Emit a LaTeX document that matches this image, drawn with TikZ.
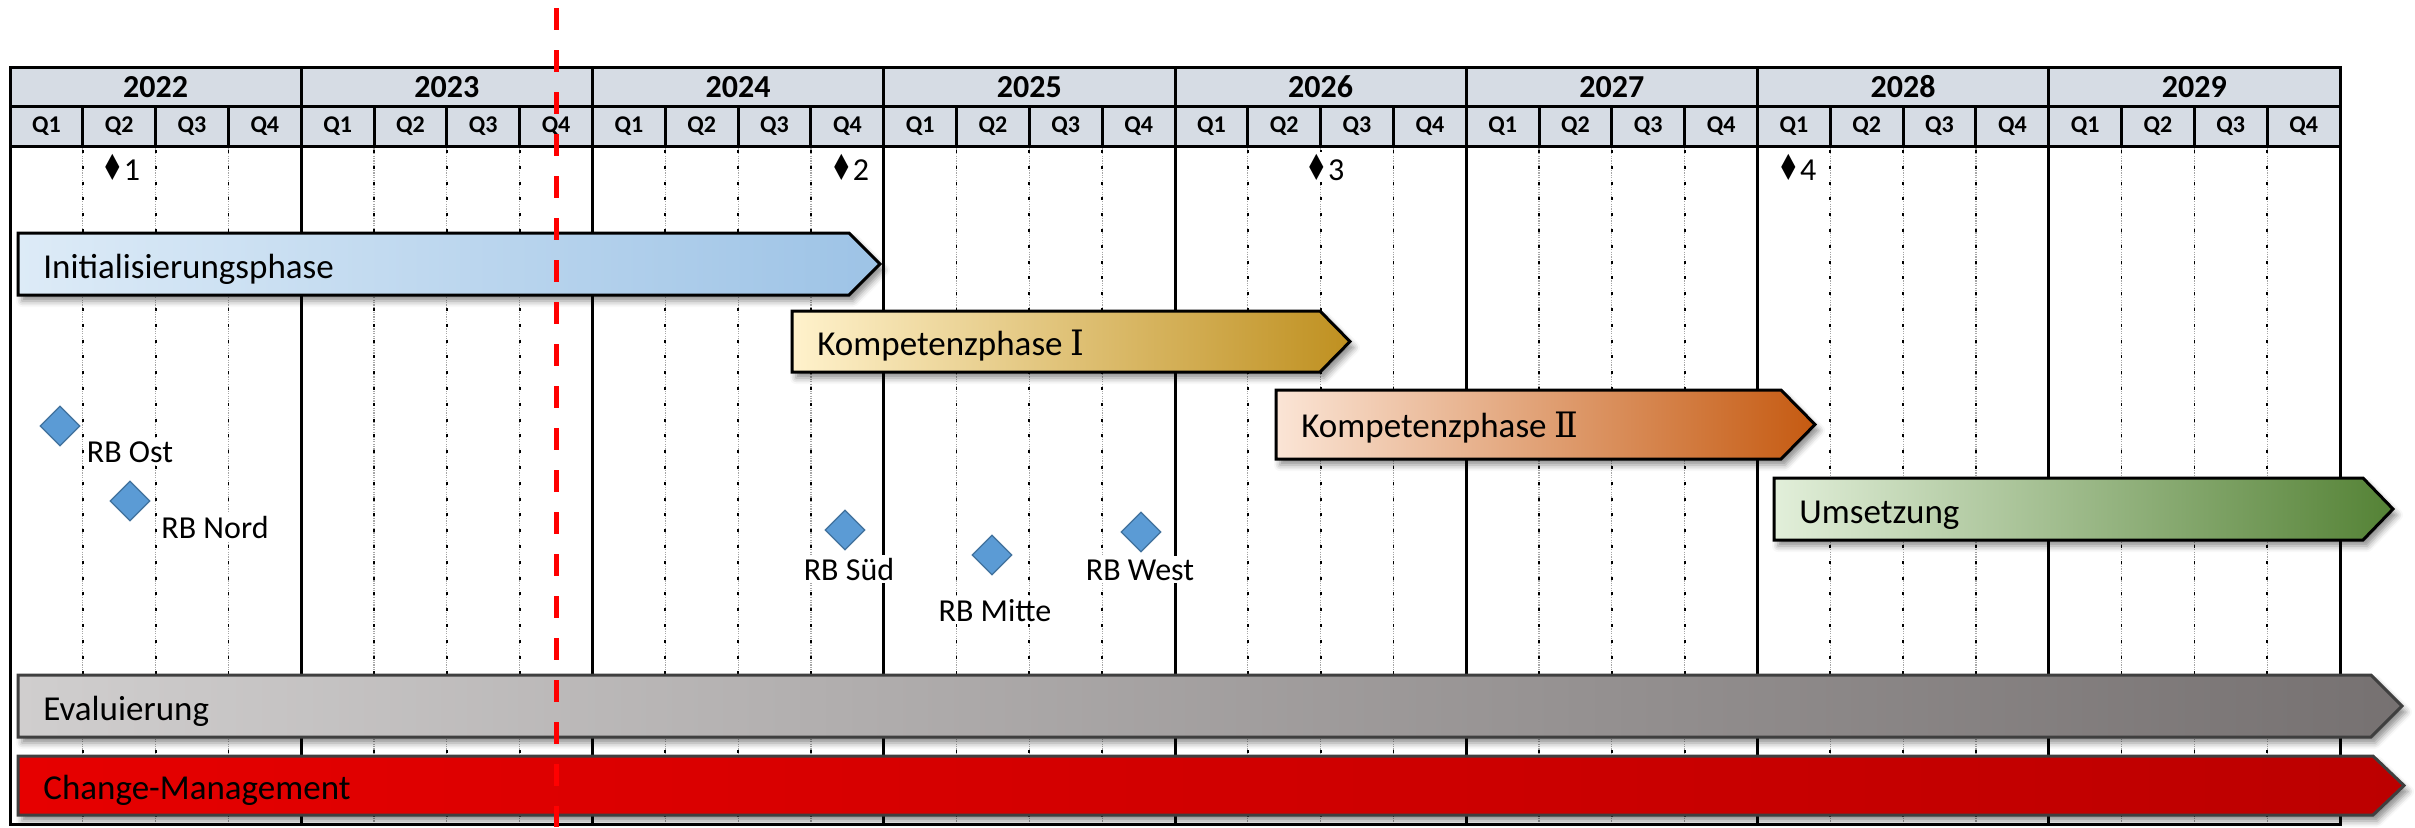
\documentclass[tikz,border=0pt]{standalone}
\usepackage{fontspec}
\usepackage{graphicx}
\setmainfont{Carlito}
\newfontfamily\symbolfont{DejaVu Sans}
\newfontfamily\romanfont{DejaVu Serif}
\usetikzlibrary{shapes.geometric,shadows.blur}

\definecolor{headfill}{HTML}{D6DCE4}
\definecolor{initL}{HTML}{DDEBF7}
\definecolor{initR}{HTML}{9DC3E6}
\definecolor{kpiL}{HTML}{FFF2CC}
\definecolor{kpiR}{HTML}{BF9020}
\definecolor{kpiiL}{HTML}{FBE5D6}
\definecolor{kpiiR}{HTML}{C55A11}
\definecolor{umsL}{HTML}{E2EFDA}
\definecolor{umsR}{HTML}{548235}
\definecolor{evalL}{HTML}{D0CECE}
\definecolor{evalR}{HTML}{767171}
\definecolor{cmL}{HTML}{E60000}
\definecolor{cmR}{HTML}{BC0000}
\definecolor{rbfill}{HTML}{5B9BD5}
\definecolor{rbdraw}{HTML}{41719C}
\definecolor{barline}{HTML}{3F3F3F}

\newcommand\msmark{\scalebox{0.7}[1]{\symbolfont\fontsize{18}{18}\selectfont ♦}}

\tikzset{
  yearcell/.style={draw=black, line width=1.5pt, fill=headfill,
    minimum width=145.625pt, minimum height=19.5pt, inner sep=0pt,
    font=\fontsize{16}{16}\selectfont\bfseries},
  qcell/.style={draw=black, line width=1.5pt, fill=headfill,
    minimum width=36.40625pt, minimum height=19.75pt, inner sep=0pt,
    font=\fontsize{12}{12}\selectfont\bfseries},
  yearline/.style={line width=1.5pt, black, line cap=rect},
  quartergray/.style={line width=0.6pt, black!35, dash pattern=on 0.6pt off 0.6pt},
  quarterdash/.style={line width=0.9pt, black, dash pattern=on 1.5pt off 6.4pt},
  phasebar/.style={draw=black, line width=1.5pt, line join=miter,
    blur shadow={shadow xshift=2pt, shadow yshift=-3pt,
      shadow blur radius=3pt, shadow opacity=45}},
  longbar/.style={phasebar, draw=barline},
  bartext/.style={anchor=base west, inner sep=0pt,
    font=\fontsize{17.5}{17.5}\selectfont},
  milestone/.style={anchor=west, fill=white, inner sep=1pt,
    font=\fontsize{16}{16}\selectfont},
  rb/.style={diamond, draw=rbdraw, fill=rbfill, line width=0.6pt,
    minimum width=20pt, minimum height=20pt, inner sep=0pt},
  rblabel/.style={anchor=base, fill=white, inner sep=1.5pt,
    font=\fontsize{16}{16}\selectfont},
  nowline/.style={line width=2.5pt, color=red, dash pattern=on 11pt off 10pt},
}

\begin{document}
\begin{tikzpicture}[x={(0.5pt,0)}, y={(0,-0.5pt)}]
\useasboundingbox (0,0) rectangle (2415,827);

% body grid: dotted quarter lines, solid year lines
\foreach \k in {1,...,31} {
  \pgfmathtruncatemacro\m{mod(\k,4)}
  \ifnum\m=0
    \draw[yearline] ({10+\k*72.8125},146) -- ({10+\k*72.8125},824);
  \else
    \draw[quartergray] ({10+\k*72.8125},146) -- ({10+\k*72.8125},824);
    \draw[quarterdash] ({10+\k*72.8125},150) -- ({10+\k*72.8125},824);
  \fi
}
\draw[yearline] (10,146) -- (10,824) -- (2340,824) -- (2340,146);

% header: years and quarters
\foreach \i/\yr in {0/2022,1/2023,2/2024,3/2025,4/2026,5/2027,6/2028,7/2029} {
  \node[yearcell] (yr\yr) at ({10+\i*291.25+145.625},87) {\yr};
  \foreach \q in {1,...,4} {
    \node[qcell] (q\yr-\q) at ({10+\i*291.25+(\q-0.5)*72.8125},126.25) {Q\q};
  }
}

% milestones
\node[milestone] (ms1) at (99,167) {\msmark1};
\node[milestone] (ms2) at (828,167) {\msmark2};
\node[milestone] (ms3) at (1303,167) {\msmark3};
\node[milestone] (ms4) at (1775,167) {\msmark4};

% phases
\path[phasebar, left color=initL, right color=initR]
  (18,233) -- (849,233) -- (880,264) -- (849,295) -- (18,295) -- cycle;
\node[bartext] (init) at (43,278) {Initialisierungsphase};

\path[phasebar, left color=kpiL, right color=kpiR]
  (792,311) -- (1320,311) -- (1350,341.5) -- (1320,372) -- (792,372) -- cycle;
\node[bartext] (kp1) at (817,355.5) {Kompetenzphase {\romanfont Ⅰ}};

\path[phasebar, left color=kpiiL, right color=kpiiR]
  (1276,390) -- (1781,390) -- (1815,424.5) -- (1781,459) -- (1276,459) -- cycle;
\node[bartext] (kp2) at (1301,437) {Kompetenzphase {\romanfont Ⅱ}};

\path[phasebar, left color=umsL, right color=umsR]
  (1774,478) -- (2363,478) -- (2393,509) -- (2363,540) -- (1774,540) -- cycle;
\node[bartext] (ums) at (1799,523) {Umsetzung};

\path[longbar, left color=evalL, right color=evalR]
  (18,675) -- (2371,675) -- (2402,706) -- (2371,737) -- (18,737) -- cycle;
\node[bartext] (eval) at (43,720) {Evaluierung};

\path[longbar, left color=cmL, right color=cmR]
  (18,756) -- (2373,756) -- (2404,785.5) -- (2373,815) -- (18,815) -- cycle;
\node[bartext] (cm) at (43,799) {Change-Management};

% regional rollouts
\node[rb] (rbOst) at (60,426) {};
\node[rblabel] (lOst) at (130,462) {RB Ost};
\node[rb] (rbNord) at (130,501) {};
\node[rblabel] (lNord) at (215,538) {RB Nord};
\node[rb] (rbSued) at (845,530) {};
\node[rblabel] (lSued) at (849,580) {RB Süd};
\node[rb] (rbMitte) at (992,555) {};
\node[rblabel] (lMitte) at (995,621) {RB Mitte};
\node[rb] (rbWest) at (1141,532) {};
\node[rblabel] (lWest) at (1140,580) {RB West};

% today marker
\coordinate (nowtop) at (556,8);
\coordinate (nowbot) at (556,827);
\draw[nowline] (nowtop) -- (nowbot);
\end{tikzpicture}
\end{document}
